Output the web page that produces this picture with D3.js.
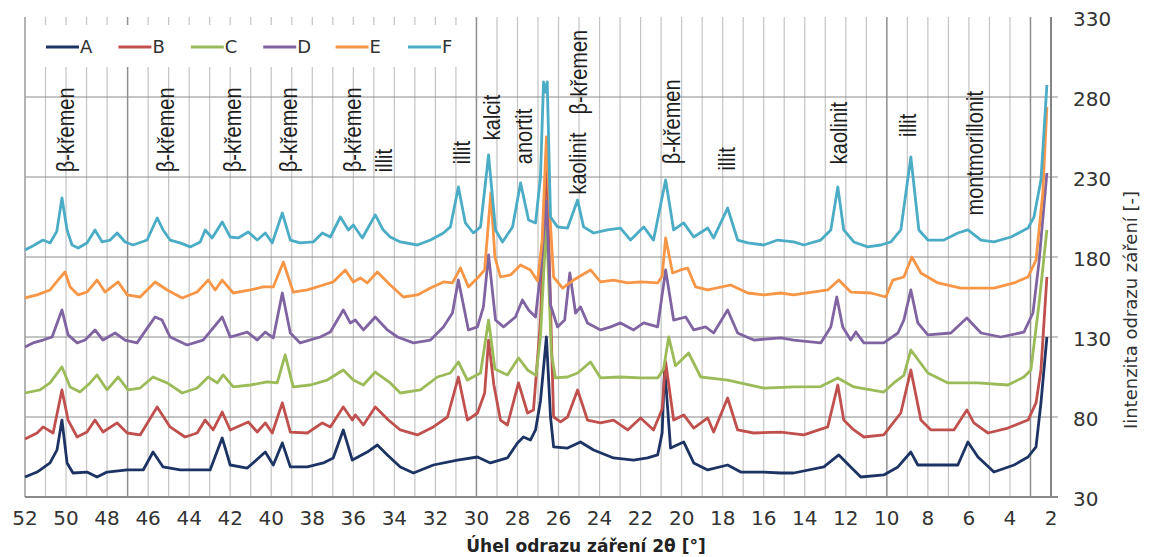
<!DOCTYPE html>
<html>
<head>
<meta charset="utf-8">
<script src="https://cdn.jsdelivr.net/npm/d3@7"></script>
<style>
  body { margin: 0; background: #fff; }
  svg { display: block; }
</style>
</head>
<body>
<svg id="chart" width="1152" height="557"></svg>
<script>
// XRD diffractograms of six samples (A–F), intensity vs. 2θ, x axis reversed.
// Each series: [2θ in degrees, intensity]
const seriesA = [
  [52.00,42.5],[51.41,45.6],[50.78,51.3],[50.44,59.4],[50.20,78.1],[49.95,51.3],[49.66,45],[48.98,45.6],
  [48.49,42.5],[48.00,45.6],[47.02,46.9],[46.24,46.9],[45.76,58.1],[45.27,48.8],[44.44,46.9],[43.46,46.9],
  [42.98,46.9],[42.39,66.9],[42.00,50],[41.17,48.1],[40.29,58.1],[39.90,50],[39.46,63.8],[39.07,48.8],
  [38.24,48.8],[37.46,51.3],[36.98,54.4],[36.49,71.9],[36.05,53.1],[35.32,58.1],[34.83,62.5],[34.34,56.3],
  [33.71,48.8],[33.07,45],[32.10,50],[30.93,53.1],[29.95,55],[29.32,51.3],[28.49,54.4],[28.00,63.8],
  [27.71,67.5],[27.37,65.6],[27.12,71.9],[26.88,90],[26.59,130],[26.39,80],[26.24,61.3],[25.56,60.6],
  [24.93,64.4],[24.29,59.4],[23.32,54.4],[22.34,53.1],[21.66,54.4],[21.17,56.3],[20.95,70],[20.83,111.3],
  [20.54,60.6],[19.90,64.4],[19.41,51.3],[18.73,46.9],[17.76,50],[17.12,45.6],[16.00,45.6],[15.17,45],
  [14.54,45],[13.07,48.8],[12.34,56.3],[11.76,48.8],[11.27,42.5],[10.15,43.8],[9.46,48.8],[8.83,58.1],
  [8.49,50],[7.51,50],[6.54,50],[6.05,64.4],[5.56,55],[4.78,45.6],[3.80,50],[3.12,55],[2.73,61.3],
  [2.49,88.8],[2.20,130]
];
const seriesB = [
  [52.00,66.3],[51.41,70],[51.12,73.8],[50.63,70],[50.20,96.9],[49.90,78.1],[49.46,67.5],[48.98,70.6],
  [48.59,78.1],[48.20,70.6],[47.51,76.3],[47.02,70],[46.39,68.8],[45.56,86.3],[44.93,73.8],[44.20,67.5],
  [43.61,70],[43.22,78.1],[42.83,71.9],[42.39,83.1],[42.00,71.9],[41.12,76.9],[40.68,70.6],[40.29,76.3],
  [39.95,70],[39.46,88.8],[39.07,70.6],[38.24,70],[37.51,76.3],[37.12,73.8],[36.49,86.3],[36.05,78.1],
  [35.90,81.3],[35.51,75],[34.93,86.3],[34.29,78.1],[33.71,71.9],[32.88,68.8],[32.10,73.8],[31.41,80],
  [30.88,105],[30.44,78.1],[29.95,82.5],[29.60,95],[29.41,128.1],[29.15,100],[28.83,78.1],[28.49,75],
  [27.95,101.3],[27.51,82.5],[27.22,84.4],[26.88,140],[26.59,246.9],[26.35,130],[26.24,80],[25.90,76.9],
  [25.56,80],[25.07,96.9],[24.59,78.1],[23.95,76.3],[23.32,78.1],[22.63,71.9],[22.00,79.4],[21.37,71.9],
  [20.95,85],[20.78,114.4],[20.39,78.1],[19.90,81.3],[19.41,73.1],[18.73,79.4],[18.44,70.6],[17.76,91.9],
  [17.27,71.9],[16.49,70],[15.17,70.6],[14.05,68.8],[12.88,73.8],[12.39,100],[12.10,78.1],[11.61,71.9],
  [11.12,67.5],[10.15,68.8],[9.32,82.5],[8.83,109.4],[8.34,78.1],[7.85,71.9],[6.73,71.9],[6.10,84.4],
  [5.76,76.3],[5.07,70],[4.10,73.1],[3.12,78.1],[2.73,88.8],[2.49,109.4],[2.20,167.5]
];
const seriesC = [
  [52.00,95],[51.27,96.9],[50.78,101.3],[50.20,111.3],[49.80,98.8],[49.32,95.6],[48.83,101.3],[48.49,106.3],
  [48.00,96.9],[47.46,105],[46.98,96.9],[46.39,98.1],[45.76,105],[45.07,101.3],[44.34,95],[43.61,98.1],
  [43.07,105],[42.63,101.3],[42.34,106.3],[41.85,98.8],[41.02,100],[40.20,101.9],[39.71,101.3],[39.32,118.8],
  [38.93,98.8],[38.10,100],[37.27,103.1],[36.49,109.4],[36.00,103.1],[35.51,100],[34.93,108.1],[34.20,101.3],
  [33.71,95],[32.73,96.9],[31.90,105],[31.27,107.5],[30.88,114.4],[30.44,103.1],[29.80,107.5],[29.41,140.6],
  [29.10,110],[28.49,106.3],[27.95,116.9],[27.51,109.4],[27.10,106],[26.88,130],[26.59,203.1],[26.35,120],
  [26.15,104.4],[25.56,105],[25.07,107.5],[24.44,114.4],[23.95,104.4],[22.98,105],[22.00,104.4],[21.17,104.4],
  [20.88,110],[20.63,130],[20.30,112],[19.66,120],[19.07,105],[17.76,103.1],[16.00,98.1],[14.54,98.8],
  [13.22,99],[12.39,104.4],[11.61,98.8],[10.15,95.6],[9.66,101.3],[9.17,106],[8.83,121.9],[8.00,107.5],
  [7.02,101.3],[5.56,101.3],[4.10,100],[3.32,105],[2.98,109.4],[2.59,150],[2.20,196.9]
];
const seriesD = [
  [52.00,123.8],[51.61,126.3],[51.12,128.1],[50.68,130],[50.20,146.9],[49.90,131.3],[49.46,126.3],[49.07,128.1],
  [48.59,134.4],[48.20,128.1],[47.61,132.5],[47.12,128.1],[46.54,126.3],[46.00,136.3],[45.66,142.5],[45.32,140.6],
  [44.93,130],[44.10,125],[43.32,128.1],[42.39,142.5],[42.00,130],[41.17,133.1],[40.68,128.1],[40.29,133.1],
  [39.90,129.4],[39.46,157.5],[39.07,132.5],[38.59,126.3],[37.61,130],[37.12,133.1],[36.49,146.9],[36.15,138.8],
  [35.90,140.6],[35.51,134.4],[34.93,142.5],[34.34,134.4],[33.85,130],[33.07,126.3],[32.24,128.1],[31.61,136.3],
  [31.17,145],[30.88,165.6],[30.39,134.4],[29.95,136.3],[29.66,148.8],[29.41,181.3],[29.07,140.6],[28.68,136.3],
  [28.10,142.5],[27.76,153.1],[27.46,146.9],[27.12,142.5],[26.88,170],[26.59,215],[26.39,150],[26.05,136.3],
  [25.70,140.6],[25.45,170],[25.17,145],[24.93,148.8],[24.59,138.8],[23.95,134.4],[23.46,136.3],[22.98,138.8],
  [22.34,134.4],[21.85,138.8],[21.17,136.3],[20.78,171.9],[20.39,140.6],[19.80,142.5],[19.41,134.4],[18.83,136.3],
  [18.44,132.5],[17.76,146.9],[17.27,132.5],[16.49,128.1],[15.17,129.4],[14.54,128.1],[13.22,126.3],[12.73,136.3],
  [12.44,155],[12.15,136.3],[11.76,128.1],[11.51,133.1],[11.12,126.3],[10.15,126.3],[9.46,132.5],[9.17,140.6],
  [8.83,159.4],[8.49,138.8],[8.00,131.3],[6.88,132.5],[6.10,141.9],[5.41,132.5],[4.44,130],[3.32,133.1],
  [2.88,145],[2.59,176.3],[2.20,232.5]
];
const seriesE = [
  [52.00,154.4],[51.41,156.3],[50.78,159.4],[50.39,165.6],[50.05,170.6],[49.80,161.3],[49.41,156.3],[48.98,158.1],
  [48.49,165.6],[48.10,158.1],[47.46,164.4],[47.02,156.3],[46.39,155],[45.66,164.4],[45.07,159.4],[44.34,154.4],
  [43.61,158.1],[43.07,165.6],[42.73,159.4],[42.39,165.6],[41.85,157.5],[41.02,159.4],[40.39,161.3],[39.90,161.3],
  [39.41,176.9],[38.93,158.1],[38.24,159.4],[37.46,162.5],[36.98,164.4],[36.39,171.9],[36.00,164.4],[35.66,166.9],
  [35.32,163.8],[34.83,170.6],[34.20,162.5],[33.56,155],[32.88,156.3],[32.24,160.6],[31.61,164.4],[31.17,163.8],
  [30.78,173.1],[30.39,161.3],[29.90,167.5],[29.60,172],[29.30,220],[29.10,180],[28.83,167.5],[28.34,168.8],
  [27.85,175],[27.37,171.9],[27.02,165],[26.80,190],[26.59,255],[26.39,200],[26.24,167.5],[25.80,160.6],
  [25.27,165.6],[24.44,171.9],[23.95,164.4],[23.32,165.6],[22.63,163.8],[22.00,164.4],[21.17,163.8],[20.95,168],
  [20.78,191.9],[20.44,170],[20.05,171.9],[19.71,173.1],[19.32,161.3],[18.73,159.4],[17.61,162.5],[16.78,157.5],
  [16.00,156.3],[15.17,157.5],[14.54,156.3],[12.88,159.4],[12.34,165.6],[11.76,158.1],[10.78,157.5],[10.05,155],
  [9.71,165.6],[9.17,167.5],[8.78,180],[8.34,170],[7.51,163.8],[6.39,160.6],[4.78,160.6],[3.80,163.8],
  [3.12,167.5],[2.73,178.1],[2.40,220],[2.20,273.8]
];
const seriesF = [
  [52.00,184.4],[51.60,187],[51.12,190.6],[50.78,188.8],[50.45,196],[50.20,216.9],[49.95,196.9],[49.71,187.5],
  [49.41,185.6],[48.98,188.8],[48.59,196.9],[48.24,189.4],[47.85,190.6],[47.51,195],[47.12,189.4],[46.73,187.5],
  [46.05,190.6],[45.56,204.4],[45.27,196.9],[44.93,190.6],[44.44,188.8],[43.95,186.3],[43.46,189.4],[43.22,196.9],
  [42.88,191.9],[42.39,201.9],[42.00,192.5],[41.61,191.9],[41.12,195.6],[40.68,190.6],[40.29,195],[39.95,188.8],
  [39.46,207.5],[39.07,190.6],[38.59,188.8],[37.95,189.4],[37.51,195],[37.12,192.5],[36.63,205],[36.24,196.9],
  [36.00,200],[35.56,191.9],[34.93,206.3],[34.55,197],[34.20,192.5],[33.71,189.4],[32.88,187.5],[32.24,190.6],
  [31.61,195],[31.27,198.8],[30.88,223.8],[30.54,201.3],[30.15,195],[29.80,198.8],[29.41,243.8],[29.07,196.9],
  [28.73,189.4],[28.24,198.8],[27.85,226.3],[27.46,203.1],[27.12,201.3],[26.88,230],[26.73,289.4],[26.65,283],
  [26.55,289.4],[26.39,205],[26.05,198.8],[25.56,198.1],[25.07,215.6],[24.78,198.8],[24.29,195],[23.61,196.9],
  [22.98,198.1],[22.49,190.6],[21.85,198.8],[21.37,190.6],[20.78,228.1],[20.39,196.9],[19.90,201.3],[19.41,192.5],
  [18.73,198.1],[18.44,191.9],[17.76,210.6],[17.27,190.6],[16.78,188.8],[16.00,187.5],[15.32,190.6],[14.54,189.4],
  [14.05,187.5],[13.22,190.6],[12.73,196.9],[12.39,223.8],[12.10,196.9],[11.61,189.4],[10.93,186.3],[10.29,187.5],
  [9.80,189.4],[9.32,196.9],[8.83,242.5],[8.44,196.9],[8.00,190.6],[7.22,190.6],[6.54,195],[6.05,196.9],
  [5.41,190.6],[4.78,189.4],[3.95,192.5],[3.12,198.1],[2.83,205],[2.49,228.1],[2.20,287.5]
];

const seriesNames = ["A", "B", "C", "D", "E", "F"];
const seriesColors = ["#1d3364", "#c0504d", "#9bbb59", "#8064a2", "#f79646", "#4bacc6"];
const allSeries = [seriesA, seriesB, seriesC, seriesD, seriesE, seriesF];

const xTicks = [52, 50, 48, 46, 44, 42, 40, 38, 36, 34, 32, 30, 28, 26, 24, 22, 20, 18, 16, 14, 12, 10, 8, 6, 4, 2];
const yTicks = [30, 80, 130, 180, 230, 280, 330];
// grid lines drawn a shade darker
const strongGrid = [47, 30, 10, 3];

// Phase labels: [text, 2θ position, bottom of text (intensity units)]
const phaseLabels = [
  ["β-křemen", 50.05, 233],
  ["β-křemen", 45.17, 233],
  ["β-křemen", 41.90, 233],
  ["β-křemen", 39.17, 233],
  ["β-křemen", 36.05, 233],
  ["illit", 34.54, 233],
  ["illit", 30.73, 238],
  ["kalcit", 29.27, 253],
  ["anortit", 27.71, 238],
  ["kaolinit", 25.07, 219],
  ["β-křemen", 25.02, 269],
  ["β-křemen", 20.49, 238],
  ["illit", 17.80, 234],
  ["kaolinit", 12.34, 238],
  ["illit", 8.98, 255],
  ["montmorillonit", 5.71, 206]
];

const svg = d3.select("#chart");
const x = d3.scaleLinear().domain([52, 2]).range([25, 1051]);
const y = d3.scaleLinear().domain([30, 330]).range([497, 17]);

// vertical grid, one line per degree
svg.append("g").selectAll("line")
  .data(d3.range(3, 52))
  .join("line")
  .attr("x1", d => x(d)).attr("x2", d => x(d))
  .attr("y1", y(330)).attr("y2", y(30))
  .attr("stroke", d => strongGrid.includes(d) ? "#8e8e8e" : "#c4c4c4")
  .attr("stroke-width", d => strongGrid.includes(d) ? 1.5 : 1.2);

// horizontal grid
svg.append("g").selectAll("line")
  .data(yTicks.slice(1, -1))
  .join("line")
  .attr("x1", x(52)).attr("x2", x(2) + 7)
  .attr("y1", d => y(d)).attr("y2", d => y(d))
  .attr("stroke", "#8c8c8c").attr("stroke-width", 1.2);

// plot frame: left, right and bottom
svg.append("line").attr("x1", x(52)).attr("x2", x(52)).attr("y1", y(330)).attr("y2", y(30))
  .attr("stroke", "#9a9a9a").attr("stroke-width", 1.5);
svg.append("line").attr("x1", x(2)).attr("x2", x(2)).attr("y1", y(330)).attr("y2", y(30))
  .attr("stroke", "#777").attr("stroke-width", 1.8);
svg.append("line").attr("x1", x(52)).attr("x2", x(2) + 7).attr("y1", y(30)).attr("y2", y(30))
  .attr("stroke", "#8a8a8a").attr("stroke-width", 2);

// legend background hides the grid behind the keys
svg.append("rect").attr("x", 27).attr("y", 25).attr("width", 435).attr("height", 42).attr("fill", "#fff");

// diffraction curves
const line = d3.line().x(d => x(d[0])).y(d => y(d[1]));
svg.append("g").selectAll("path")
  .data(allSeries)
  .join("path")
  .attr("d", line)
  .attr("fill", "none")
  .attr("stroke", (d, i) => seriesColors[i])
  .attr("stroke-width", 2.8)
  .attr("stroke-linejoin", "round");

// legend
const legend = svg.append("g").attr("transform", "translate(46,47)");
const item = legend.selectAll("g").data(seriesNames).join("g")
  .attr("transform", (d, i) => `translate(${i * 72.4},0)`);
item.append("line").attr("x1", 0).attr("x2", 33).attr("y1", 0).attr("y2", 0)
  .attr("stroke", (d, i) => seriesColors[i]).attr("stroke-width", 3);
item.append("text").attr("x", 34).attr("y", 0).attr("dy", "0.36em")
  .attr("font-family", "DejaVu Sans, sans-serif").attr("font-size", 18).attr("fill", "#333")
  .text(d => d);

// phase annotations, rotated, stretched slightly across
svg.append("g").selectAll("text")
  .data(phaseLabels)
  .join("text")
  .attr("transform", d => `translate(${x(d[1])},${y(d[2])}) rotate(-90) scale(1,1.18)`)
  .attr("dy", "0.36em")
  .attr("font-family", "Liberation Sans, Arial, sans-serif")
  .attr("font-size", 20)
  .attr("fill", "#1e1e1e")
  .text(d => d[0]);

// x tick labels
svg.append("g").selectAll("text")
  .data(xTicks)
  .join("text")
  .attr("x", d => x(d)).attr("y", 525)
  .attr("text-anchor", "middle")
  .attr("font-family", "DejaVu Sans, sans-serif").attr("font-size", 20).attr("fill", "#333")
  .text(d => d);

// y tick labels (right side)
svg.append("g").selectAll("text")
  .data(yTicks)
  .join("text")
  .attr("x", 1073).attr("y", d => y(d) + 2)
  .attr("dy", "0.36em")
  .attr("font-family", "DejaVu Sans, sans-serif").attr("font-size", 20).attr("fill", "#333")
  .text(d => d);

// axis titles
svg.append("text")
  .attr("x", 586).attr("y", 552)
  .attr("text-anchor", "middle")
  .attr("font-family", "DejaVu Sans, sans-serif").attr("font-size", 17).attr("font-weight", "bold")
  .attr("fill", "#222")
  .text("Úhel odrazu záření 2θ [°]");

svg.append("text")
  .attr("transform", "translate(1131,310) rotate(-90)")
  .attr("text-anchor", "middle").attr("dy", "0.36em")
  .attr("font-family", "DejaVu Sans, sans-serif").attr("font-size", 18).attr("fill", "#333")
  .text("Iintenzita odrazu záření [-]");
</script>
</body>
</html>
